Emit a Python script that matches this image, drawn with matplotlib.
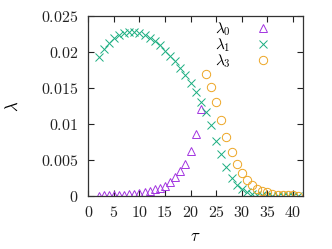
import numpy as np
import matplotlib
matplotlib.use('Agg')
import matplotlib.pyplot as plt
from matplotlib.ticker import FuncFormatter

plt.rcParams['mathtext.fontset'] = 'cm'
plt.rcParams['font.family'] = 'serif'

# data
tau0 = list(range(2, 23))
lam0 = [0.00005, 0.00007, 0.0001, 0.00013, 0.00016, 0.0002, 0.00025, 0.0003,
        0.0004, 0.0005, 0.0007, 0.0009, 0.0011, 0.0014, 0.0020, 0.0026,
        0.0034, 0.0045, 0.0062, 0.0086, 0.0121]

tau1 = list(range(2, 42))
lam1 = [0.0193, 0.0204, 0.0213, 0.0219, 0.0223, 0.0226, 0.0227, 0.0227,
        0.0226, 0.0224, 0.0220, 0.0215, 0.0209, 0.0202, 0.0195, 0.0187,
        0.0178, 0.0168, 0.0157, 0.0145, 0.0131, 0.0116, 0.0098, 0.0077,
        0.0058, 0.0040, 0.0025, 0.0015, 0.0009, 0.0005, 0.0003, 0.0002,
        0.0001, 0.00006, 0.00004, 0.00003, 0.00002, 0.00001, 0.00001, 0.0]

tau3 = list(range(23, 42))
lam3 = [0.0170, 0.0152, 0.0130, 0.0106, 0.0082, 0.0061, 0.0044, 0.0032,
        0.0022, 0.0015, 0.0010, 0.0007, 0.0005, 0.0003, 0.0002, 0.00015,
        0.0001, 0.0001, 0.00005]

xticks = [0, 5, 10, 15, 20, 25, 30, 35, 40]
yticks = [0, 0.005, 0.01, 0.015, 0.02, 0.025]

fig = plt.figure(figsize=(3.32, 2.49), dpi=100)
ax = fig.add_axes([0.266, 0.213, 0.647, 0.723])

ax.plot(tau0, lam0, ls='none', marker='^', ms=5.5, mfc='none', mec='#a335e0',
        mew=0.7, label=r'$\lambda_0$')
ax.plot(tau1, lam1, ls='none', marker='x', ms=5.5, mec='#1aae80',
        mew=0.7, label=r'$\lambda_1$')
ax.plot(tau3, lam3, ls='none', marker='o', ms=6, mfc='none', mec='#eda625',
        mew=0.7, label=r'$\lambda_3$')

ax.set_xlim(0, 42)
ax.set_ylim(0, 0.025)
ax.set_xticks(xticks)
ax.set_yticks(yticks)
ax.xaxis.set_major_formatter(FuncFormatter(lambda v, p: '$%g$' % v))
ax.yaxis.set_major_formatter(FuncFormatter(lambda v, p: '$%g$' % v))
ax.tick_params(direction='in', top=True, right=True, length=4, width=0.8,
               labelsize=11.5, colors='#222222')
ax.tick_params(axis='x', pad=6)
ax.tick_params(axis='y', pad=7)
for s in ax.spines.values():
    s.set_linewidth(0.9)
    s.set_color('#333333')

ax.set_xlabel(r'$\tau$', fontsize=12, labelpad=5)
ax.set_ylabel(r'$\lambda$', fontsize=12, labelpad=14)

ax.legend(loc='upper right', bbox_to_anchor=(0.848, 0.975), frameon=False,
          markerfirst=False, fontsize=11, handlelength=1.0, handletextpad=1.6,
          labelspacing=-0.1, borderpad=0.0, borderaxespad=0.0)

fig.savefig('out.png', dpi=100)
